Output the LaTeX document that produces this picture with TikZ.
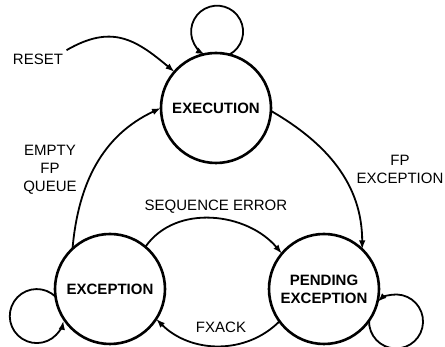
\documentclass[tikz,border=0pt]{standalone}
\usepackage{fontspec}
\setmainfont{Liberation Sans}
\usetikzlibrary{arrows.meta,positioning}

\begin{document}
\begin{tikzpicture}[
  x=1pt, y=1pt,
  every node/.style={font=\fontsize{15}{18}\selectfont, align=center},
  state/.style={circle, draw, line width=2.6pt, minimum size=110pt, inner sep=0pt, outer sep=0pt, font=\fontsize{15}{18}\selectfont\bfseries},
  edge/.style={-{Latex[length=9pt,width=6.5pt]}, line width=1.8pt}
]
\useasboundingbox (0,0) rectangle (445,347);

% states
\node[state] (exe) at (216,239) {EXECUTION};
\node[state] (exc) at (110,58) {EXCEPTION};
\node[state] (pend) at (324,58) {PENDING\\EXCEPTION};

% labels
\node (reset) at (38,288) {RESET};
\node (empty) at (50,177) {EMPTY\\FP\\QUEUE};
\node (fpexc) at (400,178) {FP\\EXCEPTION};
\node (seq) at (216,140) {SEQUENCE ERROR};
\node (fxack) at (221,20) {FXACK};

% transitions
\draw[edge] (reset.north east) to[out=30,in=140,looseness=1.2] (exe.139);
\draw[edge] (exc.133) to[out=85,in=205] (exe.180);
\draw[edge] (exe.-3) to[out=-30,in=90] (pend.46);
\draw[edge] (exc.50) to[out=55,in=130] (pend.140);
\draw[edge] (pend.216) to[out=225,in=-45] (exc.-33);

% self loops
\draw[edge] (exe.76) arc[start angle=-62,end angle=242,radius=26pt];
\draw[edge] (exc.188) arc[start angle=46,end angle=350,radius=27pt];
\draw[edge] (pend.-35) arc[start angle=178,end angle=493,radius=27pt];
\end{tikzpicture}
\end{document}
